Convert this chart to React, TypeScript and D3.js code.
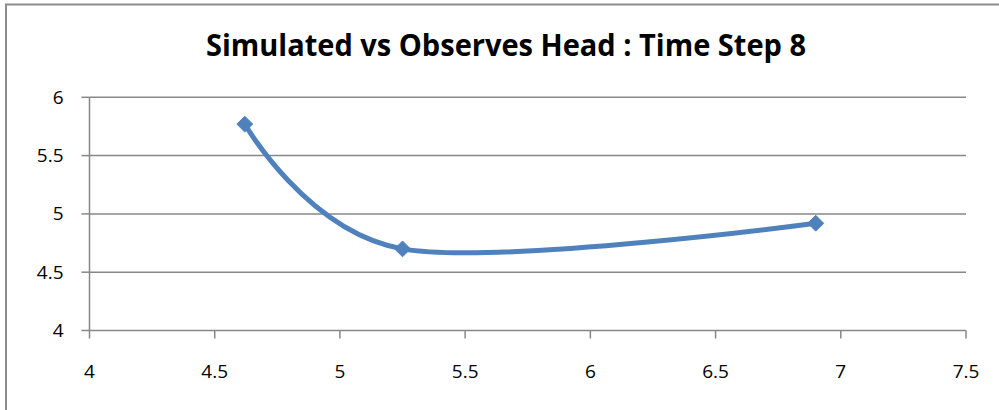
import React, { useEffect, useRef } from "react";
import * as d3 from "d3";

// Observed head (x) vs simulated head (y)
const xValues = [4.62, 5.25, 6.9];
const yValues = [5.77, 4.7, 4.92];
const xTicks = [4, 4.5, 5, 5.5, 6, 6.5, 7, 7.5];
const yTicks = [4, 4.5, 5, 5.5, 6];
const titleText = "Simulated vs Observes Head : Time Step 8";

const W = 999;
const H = 410;
const FONT = "'Open Sans', 'Liberation Sans', sans-serif";
const BLUE = "#4F81BD";
const GRID = "#878787";

export default function App() {
  const ref = useRef<SVGSVGElement | null>(null);

  useEffect(() => {
    document.body.style.margin = "0";
    const svg = d3.select(ref.current);
    svg.selectAll("*").remove();

    const x = d3.scaleLinear().domain([4, 7.5]).range([89.5, 966]);
    const y = d3.scaleLinear().domain([4, 6]).range([330.5, 97.3]);

    svg.append("rect").attr("width", W).attr("height", H).attr("fill", "#fff");

    // chart frame (top and left edges visible)
    svg
      .append("path")
      .attr("d", `M6,${H} V4.5 H${W}`)
      .attr("fill", "none")
      .attr("stroke", "#8c8c8c")
      .attr("stroke-width", 2);

    // title
    svg
      .append("text")
      .attr("x", 506)
      .attr("y", 56)
      .attr("text-anchor", "middle")
      .attr("font-family", FONT)
      .attr("font-weight", 700)
      .attr("font-size", 31)
      .attr("textLength", 600)
      .attr("lengthAdjust", "spacingAndGlyphs")
      .attr("fill", "#000")
      .text(titleText);

    // horizontal gridlines
    svg
      .append("g")
      .selectAll("line")
      .data(yTicks.filter((t) => t !== 4))
      .join("line")
      .attr("x1", x(4))
      .attr("x2", x(7.5))
      .attr("y1", (d) => y(d))
      .attr("y2", (d) => y(d))
      .attr("stroke", GRID)
      .attr("stroke-width", 1.5);

    // y axis
    const yAxis = svg.append("g").attr("transform", `translate(${x(4)},0)`);
    yAxis
      .append("line")
      .attr("y1", y(6))
      .attr("y2", y(4))
      .attr("stroke", GRID)
      .attr("stroke-width", 1.5);
    yAxis
      .selectAll("line.tick")
      .data(yTicks)
      .join("line")
      .attr("class", "tick")
      .attr("x1", -8)
      .attr("x2", 0)
      .attr("y1", (d) => y(d))
      .attr("y2", (d) => y(d))
      .attr("stroke", GRID)
      .attr("stroke-width", 1.5);
    yAxis
      .selectAll("text")
      .data(yTicks)
      .join("text")
      .attr("x", -26)
      .attr("y", (d) => y(d) + 6.5)
      .attr("text-anchor", "end")
      .attr("font-family", FONT)
      .attr("font-size", 19)
      .attr("fill", "#000")
      .text((d) => String(d));

    // x axis
    const xAxis = svg.append("g").attr("transform", `translate(0,${y(4)})`);
    xAxis
      .append("line")
      .attr("x1", x(4))
      .attr("x2", x(7.5))
      .attr("stroke", GRID)
      .attr("stroke-width", 1.5);
    xAxis
      .selectAll("line.tick")
      .data(xTicks)
      .join("line")
      .attr("class", "tick")
      .attr("x1", (d) => x(d))
      .attr("x2", (d) => x(d))
      .attr("y1", 0)
      .attr("y2", 8)
      .attr("stroke", GRID)
      .attr("stroke-width", 1.5);
    xAxis
      .selectAll("text")
      .data(xTicks)
      .join("text")
      .attr("x", (d) => x(d))
      .attr("y", 47.5)
      .attr("text-anchor", "middle")
      .attr("font-family", FONT)
      .attr("font-size", 19)
      .attr("fill", "#000")
      .text((d) => String(d));

    // smoothed series line
    const pts: [number, number][] = xValues.map((v, i) => [x(v), y(yValues[i])]);
    const line = d3.line().curve(d3.curveCardinal.tension(0));
    svg
      .append("path")
      .attr("d", line(pts))
      .attr("fill", "none")
      .attr("stroke", BLUE)
      .attr("stroke-width", 5)
      .attr("stroke-linecap", "round");

    // diamond markers
    const diamond = d3.symbol().type(d3.symbolDiamond2).size(160);
    svg
      .append("g")
      .selectAll("path")
      .data(pts)
      .join("path")
      .attr("d", diamond())
      .attr("transform", (d) => `translate(${d[0]},${d[1]})`)
      .attr("fill", BLUE)
      .attr("stroke", BLUE)
      .attr("stroke-width", 1);
  }, []);

  return (
    <svg
      ref={ref}
      width={W}
      height={H}
      style={{ position: "absolute", left: 0, top: 0, display: "block" }}
    />
  );
}
